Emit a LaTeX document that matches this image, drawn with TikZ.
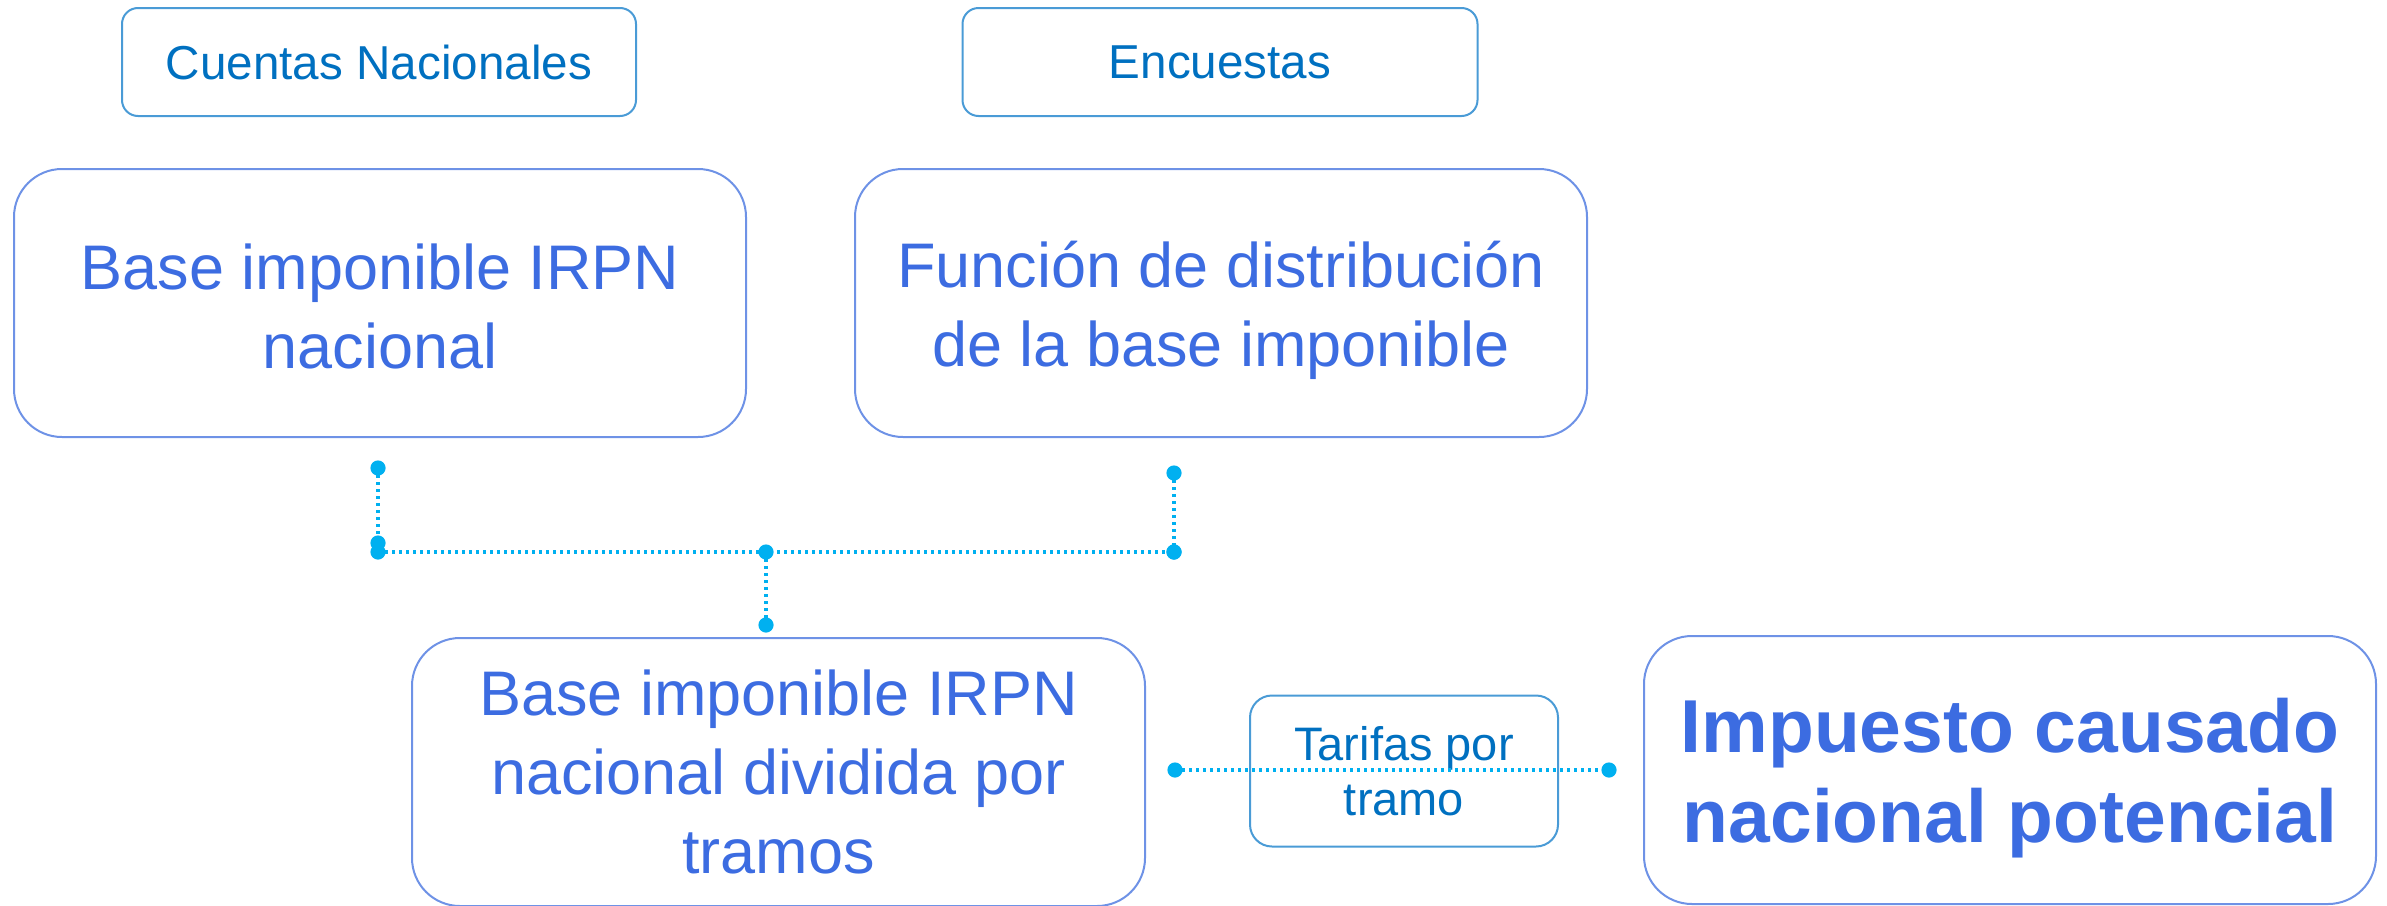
\documentclass[tikz,border=0pt]{standalone}
\usepackage{fontspec}
\setmainfont{Liberation Sans}
\definecolor{smallborder}{RGB}{74,155,214}
\definecolor{smalltext}{RGB}{0,112,192}
\definecolor{bigborder}{RGB}{110,146,230}
\definecolor{bigtext}{RGB}{60,108,225}
\definecolor{dotc}{RGB}{0,176,240}
\tikzset{
  srcbox/.style={draw=smallborder, line width=1pt, rounded corners=8pt, text=smalltext,
    font=\fontsize{23.8pt}{29.5pt}\selectfont, align=center, inner sep=0pt},
  bigbox/.style={draw=bigborder, line width=1pt, rounded corners=24pt, text=bigtext,
    font=\fontsize{31.5pt}{39.5pt}\selectfont, align=center, inner sep=0pt},
  tarbox/.style={draw=smallborder, line width=1pt, rounded corners=11pt, text=smalltext,
    font=\fontsize{23.5pt}{27.5pt}\selectfont, align=center, inner sep=0pt},
  impbox/.style={draw=bigborder, line width=1pt, rounded corners=24pt, text=bigtext,
    font=\fontsize{37.5pt}{45pt}\selectfont\bfseries, align=center, inner sep=0pt},
  link/.style={draw=dotc, line width=2pt, dash pattern=on 1.7pt off 1.8pt},
  enddot/.style={fill=dotc}
}
\begin{document}
\begin{tikzpicture}[x=0.5pt,y=-0.5pt]
\useasboundingbox (0,0) rectangle (2387,905);
% source boxes
\node[srcbox, minimum width=257pt, minimum height=54pt] (cn) at (379,62) {Cuentas Nacionales};
\node[srcbox, minimum width=257.5pt, minimum height=54pt] (enc) at (1220,62) {Encuestas};
% main boxes
\node[bigbox, minimum width=366pt, minimum height=134pt] (b1) at (380,303) {};
\node[bigbox, draw=none, yshift=-1.5pt] (b1text) at (b1.center) {Base imponible IRPN\\nacional};
\node[bigbox, minimum width=366pt, minimum height=134pt] (b2) at (1221,303) {};
\node[bigbox, draw=none, yshift=-3.8pt] (b2text) at (b2.center) {Función de distribución\\de la base imponible};
\node[bigbox, minimum width=366.5pt, minimum height=134pt] (b3) at (778.5,772) {Base imponible IRPN\\nacional dividida por\\tramos};
\node[tarbox, minimum width=154pt, minimum height=75.5pt] (tar) at (1404,771) {Tarifas por\\tramo};
\node[impbox, minimum width=366pt, minimum height=134pt] (imp) at (2010,770) {};
\node[impbox, draw=none, yshift=-4pt] (imptext) at (imp.center) {Impuesto causado\\nacional potencial};
% connector points
\coordinate (c1t) at (378,468);
\coordinate (c1b) at (378,543);
\coordinate (c2t) at (1174,473);
\coordinate (c2b) at (1174,552);
\coordinate (hl) at (378,552);
\coordinate (hr) at (1174,552);
\coordinate (mt) at (766,552);
\coordinate (mb) at (766,625);
\coordinate (tl) at (1175,770);
\coordinate (tr) at (1609,770);
% connectors
\draw[link] (c1t) -- (c1b);
\draw[link] (c2t) -- (c2b);
\draw[link] (hl) -- (hr);
\draw[link] (mt) -- (mb);
\draw[link] (tl) -- (tr);
% end dots
\foreach \p in {c1t,c1b,c2t,c2b,hl,hr,mt,mb,tl,tr}
  \fill[enddot] (\p) circle (3.8pt);
\end{tikzpicture}
\end{document}
